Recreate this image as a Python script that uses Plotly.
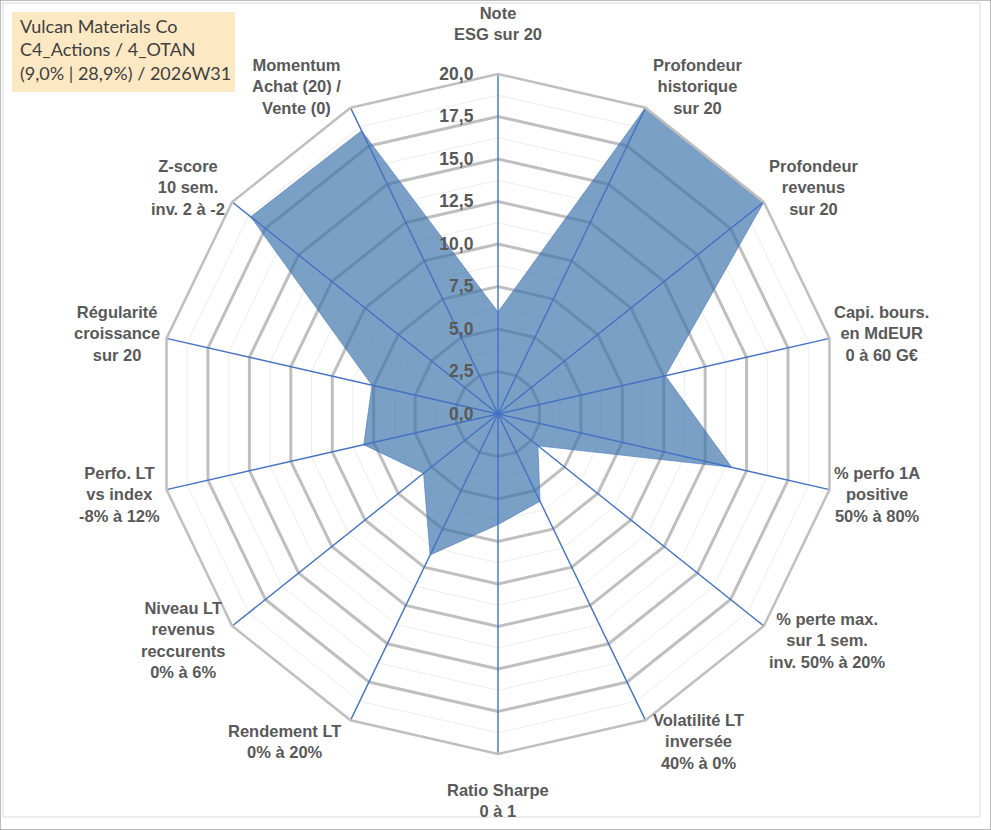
import math
import plotly.graph_objects as go

categories = [
    "Note<br>ESG sur 20",
    "Profondeur<br>historique<br>sur 20",
    "Profondeur<br>revenus<br>sur 20",
    "Capi. bours.<br>en MdEUR<br>0 à 60 G€",
    "% perfo 1A<br>positive<br>50% à 80%",
    "% perte max.<br>sur 1 sem.<br>inv. 50% à 20%",
    "Volatilité LT<br>inversée<br>40% à 0%",
    "Ratio Sharpe<br>0 à 1",
    "Rendement LT<br>0% à 20%",
    "Niveau LT<br>revenus<br>reccurents<br>0% à 6%",
    "Perfo. LT<br>vs index<br>-8% à 12%",
    "Régularité<br>croissance<br>sur 20",
    "Z-score<br>10 sem.<br>inv. 2 à -2",
    "Momentum<br>Achat (20) /<br>Vente (0)",
]
values = [6.0, 20.0, 20.0, 10.1, 14.1, 3.0, 5.7, 6.5, 9.2, 5.6, 8.1, 7.6, 18.6, 18.5]
radial_ticks = [0.0, 2.5, 5.0, 7.5, 10.0, 12.5, 15.0, 17.5, 20.0]
minor_levels = [1.25, 3.75, 6.25, 8.75, 11.25, 13.75, 16.25, 18.75]
axis_max = 20.0
title_lines = ["Vulcan Materials Co", "C4_Actions / 4_OTAN", "(9,0% | 28,9%) / 2026W31"]

W, H = 991, 830
cx, cy, R = 498, 414, 340
LRX, LRY = 333, 349  # label anchor radii (px)

fig = go.Figure()

for lv in minor_levels:
    fig.add_trace(go.Scatterpolar(
        r=[lv] * (len(categories) + 1), theta=categories + categories[:1],
        mode="lines", line=dict(color="#EDEDED", width=1),
        hoverinfo="skip", showlegend=False))

fig.add_trace(go.Scatterpolar(
    r=values + values[:1], theta=categories + categories[:1],
    mode="lines", fill="toself",
    fillcolor="rgba(60,115,170,0.68)",
    line=dict(color="rgba(68,114,196,0.6)", width=1),
    showlegend=False))

for c in categories:
    fig.add_trace(go.Scatterpolar(
        r=[0, axis_max], theta=[c, c], mode="lines",
        line=dict(color="#4472C4", width=1.4),
        hoverinfo="skip", showlegend=False))

label_font = dict(family="Liberation Sans", size=16.5, color="#595959", weight="bold")
annotations = []
n = len(categories)
for i, c in enumerate(categories):
    a = 2 * math.pi * i / n
    s, co = math.sin(a), math.cos(a)
    vx = cx + LRX * s
    vy = cy - LRY * co
    if abs(s) < 1e-6:
        if co > 0:
            px, py, xa, ya = vx, vy - 20, "center", "bottom"
        else:
            px, py, xa, ya = vx, vy + 16, "center", "top"
    elif s > 0:
        px, py, xa, ya = vx + 9, vy - 14 * co, "left", "middle"
    else:
        px, py, xa, ya = vx - 11, vy - 14 * co, "right", "middle"
    annotations.append(dict(
        text=c, xref="paper", yref="paper", x=px / W, y=1 - py / H,
        xanchor=xa, yanchor=ya, align="center", showarrow=False, font=label_font))

annotations.append(dict(
    text="<br>".join(title_lines), xref="paper", yref="paper",
    x=18 / W, y=1 - 13 / H, xanchor="left", yanchor="top", align="left",
    showarrow=False, font=dict(family="Lato", size=18, color="#404040")))

fig.update_layout(
    width=W, height=H,
    margin=dict(l=0, r=0, t=0, b=0),
    paper_bgcolor="white",
    separators=", ",
    polar=dict(
        domain=dict(x=[(cx - R) / W, (cx + R) / W], y=[1 - (cy + R) / H, 1 - (cy - R) / H]),
        bgcolor="white",
        gridshape="linear",
        radialaxis=dict(
            range=[0, axis_max], tickvals=radial_ticks, tickformat=".1f",
            angle=90, tickangle=90, side="counterclockwise",
            showline=False, ticks="outside", ticklen=18, tickcolor="rgba(0,0,0,0)",
            gridcolor="#BFBFBF", gridwidth=2.5,
            tickfont=dict(family="Liberation Sans", size=17.5, color="#595959", weight="bold"),
        ),
        angularaxis=dict(
            direction="clockwise", rotation=90,
            showgrid=False, showline=True, linecolor="#BFBFBF", linewidth=2.5,
            ticks="", showticklabels=False,
        ),
    ),
    shapes=[
        dict(type="rect", xref="paper", yref="paper", x0=0, x1=1, y0=0, y1=1,
             line=dict(color="#A6A6A6", width=1.5), layer="above"),
        dict(type="rect", xref="paper", yref="paper",
             x0=3 / W, x1=980 / W, y0=1 - 817 / H, y1=1 - 3 / H,
             line=dict(color="#D9D9D9", width=1), layer="above"),
        dict(type="rect", xref="paper", yref="paper",
             x0=12 / W, x1=235 / W, y0=1 - 92 / H, y1=1 - 12 / H,
             fillcolor="#FCE9C4", line=dict(width=0), layer="below"),
    ],
    annotations=annotations,
)

fig.write_html("out.html", config={"displayModeBar": False},
               post_script="document.body.style.margin='0px';")
